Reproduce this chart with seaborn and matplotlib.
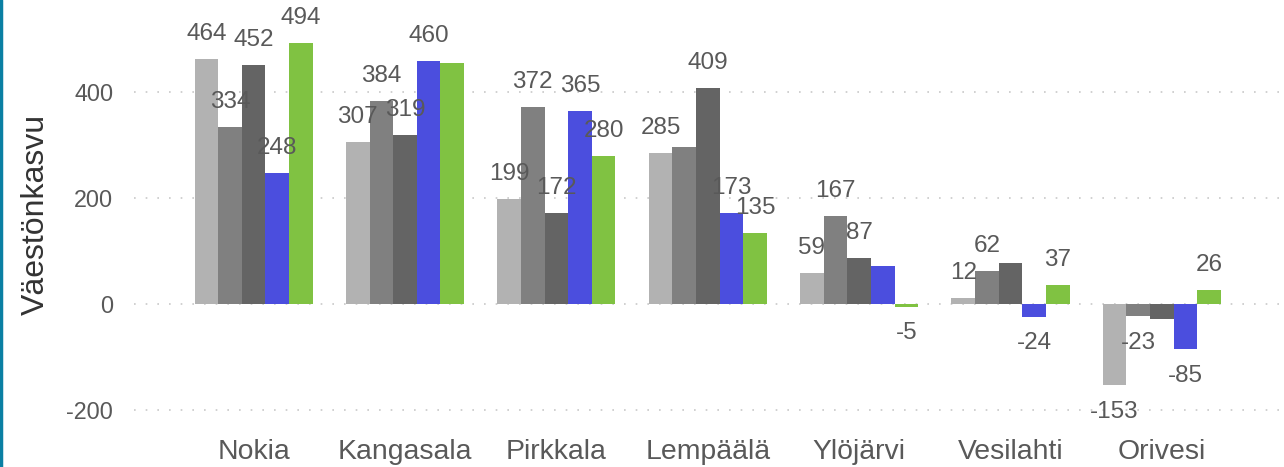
import numpy as np
import pandas as pd
import matplotlib
matplotlib.use("Agg")
import matplotlib.pyplot as plt
import seaborn as sns
from matplotlib.lines import Line2D

kunnat = ["Nokia", "Kangasala", "Pirkkala", "Lempäälä", "Ylöjärvi", "Vesilahti", "Orivesi"]
sarjat = ["s1", "s2", "s3", "s4", "s5"]
s1 = [464, 307, 199, 285, 59, 12, -153]
s2 = [334, 384, 372, 297, 167, 62, -23]
s3 = [452, 319, 172, 409, 87, 78, -28]
s4 = [248, 460, 365, 173, 73, -24, -85]
s5 = [494, 455, 280, 135, -5, 37, 26]
# arvot joiden tunnistetta ei näy kuvassa (kunta, sarjan indeksi)
piilotetut = [("Kangasala", 4), ("Lempäälä", 1), ("Ylöjärvi", 3), ("Vesilahti", 2), ("Orivesi", 2)]
varit = ["#b2b2b2", "#808080", "#646464", "#4b4ede", "#80c242"]
yticks = [-200, 0, 200, 400]

df = pd.DataFrame({
    "kunta": kunnat * 5,
    "sarja": np.repeat(sarjat, len(kunnat)),
    "kasvu": s1 + s2 + s3 + s4 + s5,
})

sns.set_style("white")
plt.rcParams["font.family"] = ["Liberation Sans", "DejaVu Sans"]

fig = plt.figure(figsize=(12.84, 4.67), dpi=100)
ax = fig.add_axes([134 / 1284, 42 / 467, 1146 / 1284, 425 / 467])

sns.barplot(data=df, x="kunta", y="kasvu", hue="sarja", palette=varit,
            width=0.78, saturation=1, errorbar=None, legend=False, ax=ax,
            linewidth=0, zorder=2)

arvot = [s1, s2, s3, s4, s5]
for i, cont in enumerate(ax.containers):
    for j, p in enumerate(cont.patches):
        if (kunnat[j], i) in piilotetut:
            continue
        arvo = arvot[i][j]
        off = 18 if arvo >= 0 else -19
        ax.annotate(str(arvo), (p.get_x() + p.get_width() / 2, arvo),
                    xytext=(0, off), textcoords="offset points",
                    ha="center", va="center", fontsize=17.5, color="#595959", zorder=3)

ax.set_xlim(-0.79, 6.78)
ax.set_ylim(-228, 574.5)
ax.set_yticks(yticks)
ax.set_yticklabels([str(t) for t in yticks])
for t in yticks:
    ax.axhline(t, color="#c8c8c8", lw=1.2, ls=(0, (1, 6)), zorder=1)
sns.despine(ax=ax, left=True, bottom=True)
ax.tick_params(axis="y", length=0, pad=15, labelsize=16.8, labelcolor="#595959")
ax.tick_params(axis="x", length=0, pad=10, labelsize=20.4, labelcolor="#595959")
ax.set_xlabel("")
ax.set_ylabel("Väestönkasvu", fontsize=23, color="#333333")
ax.yaxis.label.set_verticalalignment("center")
ax.yaxis.set_label_coords((36 - 134) / 1146, (425 - 214) / 425)

fig.add_artist(Line2D([1.5 / 1284, 1.5 / 1284], [0, 1], color="#0a7fa3", lw=2.5,
                      transform=fig.transFigure))

fig.savefig("out.png", dpi=100)
